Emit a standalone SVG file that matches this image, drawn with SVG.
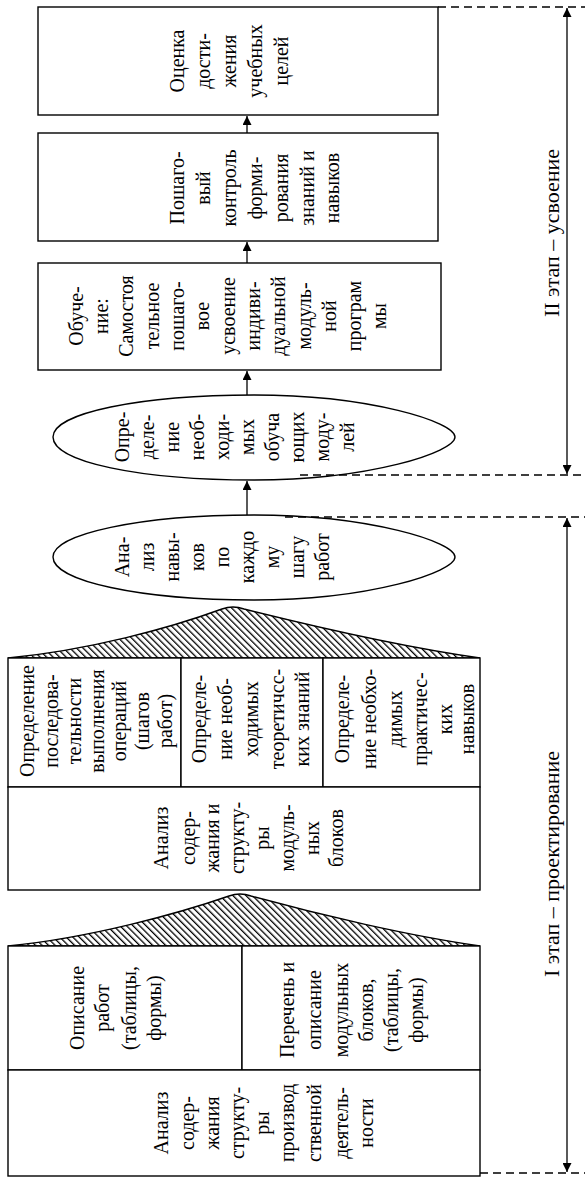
<svg xmlns="http://www.w3.org/2000/svg" width="585" height="1178" viewBox="0 0 585 1178">
<style>
.b{fill:#fff;stroke:#000;stroke-width:1.4}
.t{font-family:"Liberation Serif","Times New Roman",serif;font-size:20px;fill:#000;text-anchor:middle}
.lbl{font-family:"Liberation Serif","Times New Roman",serif;font-size:22px;fill:#000;text-anchor:middle}
.c{stroke:#000;stroke-width:1.3;fill:none}
.d{stroke:#000;stroke-width:1.3;fill:none;stroke-dasharray:8 5}
.h{fill:url(#hatch);stroke:#000;stroke-width:1.4}
</style>
<defs>
<pattern id="hatch" width="4.6" height="4.6" patternUnits="userSpaceOnUse" patternTransform="rotate(-45)">
<rect width="4.6" height="4.6" fill="#fff"/>
<line x1="0" y1="0" x2="0" y2="4.6" stroke="#000" stroke-width="2.6"/>
</pattern>
<marker id="ah" viewBox="0 0 10 10" refX="10" refY="5" markerWidth="9" markerHeight="9" markerUnits="userSpaceOnUse" orient="auto-start-reverse">
<path d="M0,0 L10,5 L0,10 Z" fill="#000"/>
</marker>
</defs>

<g id="n-ocenka">
<rect class="b" x="38" y="7" width="400" height="108"/>
<text class="t" transform="translate(0,61) rotate(-90)"><tspan x="0" y="184">Оценка</tspan><tspan x="0" y="210">дости-</tspan><tspan x="0" y="236">жения</tspan><tspan x="0" y="262">учебных</tspan><tspan x="0" y="288">целей</tspan></text>
</g>

<g id="n-kontrol">
<rect class="b" x="38" y="133" width="400" height="108"/>
<text class="t" transform="translate(0,188) rotate(-90)"><tspan x="0" y="184">Пошаго-</tspan><tspan x="0" y="210">вый</tspan><tspan x="0" y="236">контроль</tspan><tspan x="0" y="262">форми-</tspan><tspan x="0" y="288">рования</tspan><tspan x="0" y="314">знаний и</tspan><tspan x="0" y="339">навыков</tspan></text>
</g>

<g id="n-obuchenie">
<rect class="b" x="38" y="263" width="403" height="107"/>
<text class="t" transform="translate(0,316) rotate(-90)"><tspan x="0" y="83">Обуче-</tspan><tspan x="0" y="108">ние:</tspan><tspan x="0" y="133">Самостоя</tspan><tspan x="0" y="159">тельное</tspan><tspan x="0" y="184">пошаго-</tspan><tspan x="0" y="209">вое</tspan><tspan x="0" y="235">усвоение</tspan><tspan x="0" y="260">индиви-</tspan><tspan x="0" y="285">дуальной</tspan><tspan x="0" y="311">модуль-</tspan><tspan x="0" y="336">ной</tspan><tspan x="0" y="361">програм</tspan><tspan x="0" y="386">мы</tspan></text>
</g>

<g id="n-moduli">
<path class="b" d="M254,395 C140,395 53,413 53,437 C53,462 140,480 254,480 C370,480 455,452 455,437 C455,422 370,395 254,395 Z"/>
<text class="t" transform="translate(0,437) rotate(-90)"><tspan x="0" y="129">Опре-</tspan><tspan x="0" y="154">деле-</tspan><tspan x="0" y="179">ние</tspan><tspan x="0" y="204">необ-</tspan><tspan x="0" y="229">ходи-</tspan><tspan x="0" y="254">мых</tspan><tspan x="0" y="279">обуча</tspan><tspan x="0" y="304">ющих</tspan><tspan x="0" y="329">моду-</tspan><tspan x="0" y="354">лей</tspan></text>
</g>

<g id="n-navyki">
<path class="b" d="M254,515 C140,515 53,534 53,557 C53,581 140,600 254,600 C370,600 455,572 455,557 C455,542 370,515 254,515 Z"/>
<text class="t" transform="translate(0,557) rotate(-90)"><tspan x="0" y="129">Ана-</tspan><tspan x="0" y="154">лиз</tspan><tspan x="0" y="179">навы-</tspan><tspan x="0" y="204">ков</tspan><tspan x="0" y="229">по</tspan><tspan x="0" y="254">каждо</tspan><tspan x="0" y="279">му</tspan><tspan x="0" y="304">шагу</tspan><tspan x="0" y="329">работ</tspan></text>
</g>

<g id="n-hatch1">
<path class="h" d="M8,658 C90,650 170,628 222,609 Q233,605 244,609 C320,628 410,648 480,658 Z"/>
</g>

<g id="n-posled">
<rect class="b" x="8" y="658" width="173" height="129"/>
<text class="t" transform="translate(0,721) rotate(-90)"><tspan x="0" y="34">Определение</tspan><tspan x="0" y="58">последова-</tspan><tspan x="0" y="81">тельности</tspan><tspan x="0" y="104">выполнения</tspan><tspan x="0" y="126">операций</tspan><tspan x="0" y="149">(шагов</tspan><tspan x="0" y="172">работ)</tspan></text>
</g>

<g id="n-teor">
<rect class="b" x="181" y="658" width="142" height="129"/>
<text class="t" transform="translate(0,719) rotate(-90)"><tspan x="0" y="206">Определе-</tspan><tspan x="0" y="232">ние необ-</tspan><tspan x="0" y="258">ходимых</tspan><tspan x="0" y="284">теоретичсс-</tspan><tspan x="0" y="309">ких знаний</tspan></text>
</g>

<g id="n-prakt">
<rect class="b" x="323" y="658" width="157" height="129"/>
<text class="t" transform="translate(0,719) rotate(-90)"><tspan x="0" y="349">Определе-</tspan><tspan x="0" y="376">ние необхо-</tspan><tspan x="0" y="402">димых</tspan><tspan x="0" y="427">практичес-</tspan><tspan x="0" y="452">ких</tspan><tspan x="0" y="474">навыков</tspan></text>
</g>

<g id="n-analiz-blokov">
<rect class="b" x="8" y="787" width="472" height="103"/>
<text class="t" transform="translate(0,838) rotate(-90)"><tspan x="0" y="168">Анализ</tspan><tspan x="0" y="195">содер-</tspan><tspan x="0" y="219">жания и</tspan><tspan x="0" y="244">структу-</tspan><tspan x="0" y="269">ры</tspan><tspan x="0" y="294">модуль-</tspan><tspan x="0" y="319">ных</tspan><tspan x="0" y="343">блоков</tspan></text>
</g>

<g id="n-hatch2">
<path class="h" d="M8,946 C90,938 180,913 229,896 Q240,892 251,896 C320,915 410,936 480,946 Z"/>
</g>

<g id="n-opisanie">
<rect class="b" x="8" y="946" width="234" height="124"/>
<text class="t" transform="translate(0,1008) rotate(-90)"><tspan x="0" y="84">Описание</tspan><tspan x="0" y="109">работ</tspan><tspan x="0" y="136">(таблицы,</tspan><tspan x="0" y="161">формы)</tspan></text>
</g>

<g id="n-perechen">
<rect class="b" x="242" y="946" width="238" height="124"/>
<text class="t" transform="translate(0,1010) rotate(-90)"><tspan x="0" y="294">Перечень и</tspan><tspan x="0" y="321">описание</tspan><tspan x="0" y="348">модульных</tspan><tspan x="0" y="373">блоков,</tspan><tspan x="0" y="398">(таблицы,</tspan><tspan x="0" y="423">формы)</tspan></text>
</g>

<g id="n-analiz-deyat">
<rect class="b" x="8" y="1070" width="472" height="106"/>
<text class="t" transform="translate(0,1123) rotate(-90)"><tspan x="0" y="168">Анализ</tspan><tspan x="0" y="194">содер-</tspan><tspan x="0" y="219">жания</tspan><tspan x="0" y="244">структу-</tspan><tspan x="0" y="269">ры</tspan><tspan x="0" y="294">производ</tspan><tspan x="0" y="321">ственной</tspan><tspan x="0" y="348">деятель-</tspan><tspan x="0" y="373">ности</tspan></text>
</g>

<g id="n-stage2">
<text class="lbl" transform="translate(0,233) rotate(-90)" x="0" y="559">II этап – усвоение</text>
</g>

<g id="n-stage1">
<text class="lbl" transform="translate(0,864) rotate(-90)" x="0" y="559">I этап – проектирование</text>
</g>

<g id="connectors">
<line class="c" x1="247" y1="133" x2="247" y2="116" marker-end="url(#ah)"/>
<line class="c" x1="247" y1="263" x2="247" y2="242" marker-end="url(#ah)"/>
<line class="c" x1="247" y1="395" x2="247" y2="371" marker-end="url(#ah)"/>
<line class="c" x1="247" y1="515" x2="247" y2="481" marker-end="url(#ah)"/>
<line class="d" x1="438" y1="7" x2="585" y2="7"/>
<line class="d" x1="300" y1="475" x2="585" y2="475"/>
<line class="d" x1="285" y1="517" x2="585" y2="517"/>
<line class="d" x1="480" y1="1173" x2="585" y2="1173"/>
<line class="c" x1="567" y1="8" x2="567" y2="474" marker-start="url(#ah)" marker-end="url(#ah)"/>
<line class="c" x1="567" y1="518" x2="567" y2="1172" marker-start="url(#ah)" marker-end="url(#ah)"/>
</g>
</svg>
